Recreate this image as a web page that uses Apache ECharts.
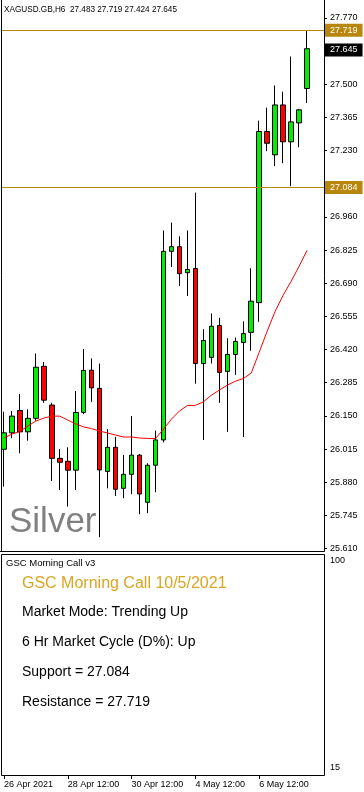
<!DOCTYPE html>
<html><head><meta charset="utf-8">
<script src="https://cdn.jsdelivr.net/npm/echarts@6/dist/echarts.min.js"></script>
<style>html,body{margin:0;padding:0;background:#fff}#c{width:364px;height:792px}</style>
</head><body><div id="c"></div>
<script>
// ---- data (H6 bars, XAGUSD) ----
const categories = [
  '26 Apr 12:00','26 Apr 18:00','27 Apr 00:00','27 Apr 06:00','27 Apr 12:00','27 Apr 18:00',
  '28 Apr 00:00','28 Apr 06:00','28 Apr 12:00','28 Apr 18:00','29 Apr 00:00','29 Apr 06:00',
  '29 Apr 12:00','29 Apr 18:00','30 Apr 00:00','30 Apr 06:00','30 Apr 12:00','30 Apr 18:00',
  '3 May 00:00','3 May 06:00','3 May 12:00','3 May 18:00','4 May 00:00','4 May 06:00',
  '4 May 12:00','4 May 18:00','5 May 00:00','5 May 06:00','5 May 12:00','5 May 18:00',
  '6 May 00:00','6 May 06:00','6 May 12:00','6 May 18:00','7 May 00:00','7 May 06:00',
  '7 May 12:00','7 May 18:00','10 May 00:00','10 May 06:00','10 May 12:00'
];
const opens  = [26.014,26.081,26.172,26.085,26.140,26.352,26.194,25.977,25.965,25.929,26.164,26.336,26.262,25.924,26.022,25.855,25.912,25.990,25.798,25.949,26.052,26.820,26.839,26.733,26.750,26.363,26.388,26.518,26.331,26.400,26.449,26.490,26.611,27.308,27.213,27.416,27.266,27.343,27.483];
const highs  = [26.167,26.170,26.239,26.177,26.404,26.369,26.203,26.015,26.022,26.251,26.422,26.384,26.363,26.096,26.065,25.991,26.149,25.995,25.957,26.090,26.905,26.937,26.881,26.905,27.059,26.503,26.567,26.549,26.466,26.469,26.535,26.751,27.352,27.405,27.495,27.470,27.613,27.400,27.719];
const lows   = [25.862,26.059,25.998,26.049,26.130,26.203,25.885,25.848,25.781,25.848,26.157,26.207,25.656,25.855,25.824,25.815,25.831,25.750,25.754,25.839,26.042,26.756,26.679,26.638,26.281,26.052,26.363,26.203,26.085,26.317,26.064,26.415,26.533,27.228,27.167,27.179,27.085,27.244,27.424];
const closes = [26.081,26.149,26.085,26.140,26.348,26.214,25.977,25.961,25.929,26.164,26.335,26.264,25.930,26.022,25.851,25.912,25.990,25.832,25.949,26.052,26.820,26.839,26.729,26.746,26.363,26.457,26.515,26.327,26.400,26.453,26.485,26.617,27.308,27.260,27.416,27.266,27.347,27.396,27.645];
const maValues = [26.060,26.076,26.086,26.109,26.129,26.141,26.149,26.149,26.133,26.117,26.105,26.098,26.088,26.080,26.072,26.064,26.064,26.060,26.058,26.058,26.096,26.137,26.170,26.192,26.193,26.207,26.234,26.255,26.275,26.291,26.302,26.324,26.409,26.495,26.576,26.641,26.698,26.759,26.824];

const priceMin = 25.610, priceMax = 27.770, priceStep = 0.135;
const indMin = 15, indMax = 100;
const xTickIndex = [0, 8, 16, 24, 32];
const xTickText  = ['26 Apr 2021', '28 Apr 12:00', '30 Apr 12:00', '4 May 12:00', '6 May 12:00'];
const resistance = 27.719, support = 27.084, lastPrice = 27.645;
const headerText = 'XAGUSD.GB,H6  27.483 27.719 27.424 27.645';
const watermark = 'Silver';
const panelTitle = 'GSC Morning Call v3';
const infoTitle = 'GSC Morning Call 10/5/2021';
const infoLines = ['Market Mode: Trending Up', '6 Hr Market Cycle (D%): Up', 'Support = 27.084', 'Resistance = 27.719'];

// ---- chart ----
const FONT = 'Liberation Sans, Arial, sans-serif';
const GOLD = '#B8860B';
const ohlc = opens.map((o, i) => [o, closes[i], lows[i], highs[i]]);
const flagged = [resistance, support, lastPrice];

const chart = echarts.init(document.getElementById('c'), null, {renderer: 'canvas'});

function markLbl(val, bg) {
  return {
    show: true, position: 'end', distance: -2,
    formatter: val.toFixed(3),
    color: '#fff', backgroundColor: bg, padding: [2, 5, 2, 5],
    fontSize: 9, fontFamily: FONT
  };
}

chart.setOption({
  animation: false,
  backgroundColor: '#fff',
  grid: [
    {left: -1, width: 328, top: 18, height: 530.5, containLabel: false},
    {left: -1, width: 328, top: 561, height: 207, containLabel: false}
  ],
  xAxis: [
    {gridIndex: 0, type: 'category', data: categories, boundaryGap: true, show: false},
    {gridIndex: 1, type: 'category', data: categories, boundaryGap: true, position: 'bottom', offset: 7,
     axisLine: {show: false},
     axisTick: {show: true, alignWithLabel: true, length: 4, interval: i => xTickIndex.includes(i), lineStyle: {color: '#000'}},
     axisLabel: {show: true, interval: i => xTickIndex.includes(i), formatter: (v, i) => xTickText[xTickIndex.indexOf(i)] || '',
       align: 'left', margin: 5, fontSize: 9, fontFamily: FONT, color: '#000'},
     splitLine: {show: false}}
  ],
  yAxis: [
    {gridIndex: 0, type: 'value', position: 'right', offset: -3, min: priceMin, max: priceMax, interval: priceStep,
     axisLine: {show: false},
     axisTick: {show: true, length: 3, lineStyle: {color: '#000'}},
     axisLabel: {show: true, margin: 6, fontSize: 9, fontFamily: FONT, color: '#000',
       formatter: v => flagged.some(f => Math.abs(f - v) < 0.02) ? '' : v.toFixed(3)},
     splitLine: {show: false}},
    {gridIndex: 1, type: 'value', position: 'right', offset: -3, min: indMin, max: indMax, interval: indMax - indMin,
     axisLine: {show: false}, axisTick: {show: false},
     axisLabel: {show: true, margin: 6, fontSize: 9, fontFamily: FONT, color: '#000'},
     splitLine: {show: false}}
  ],
  series: [
    {type: 'candlestick', xAxisIndex: 0, yAxisIndex: 0, data: ohlc, barWidth: 5, clip: false,
     itemStyle: {color: '#00ee00', color0: '#ff0000', borderColor: '#000', borderColor0: '#000', borderWidth: 1},
     markLine: {symbol: 'none', silent: true, animation: false,
       data: [
         {yAxis: resistance, lineStyle: {color: GOLD, width: 1, type: 'solid'}, label: markLbl(resistance, GOLD)},
         {yAxis: support, lineStyle: {color: GOLD, width: 1, type: 'solid'}, label: markLbl(support, GOLD)},
         {yAxis: lastPrice, lineStyle: {color: 'rgba(0,0,0,0)', width: 1, type: 'solid'}, label: markLbl(lastPrice, '#000')}
       ]}},
    {type: 'line', xAxisIndex: 0, yAxisIndex: 0, data: maValues, showSymbol: false, symbol: 'none',
     lineStyle: {color: '#ff0000', width: 1}, z: 3},
    {type: 'line', xAxisIndex: 1, yAxisIndex: 1, data: [], showSymbol: false}
  ],
  graphic: [
    {type: 'rect', shape: {x: 0, y: 0, width: 1, height: 552}, style: {fill: '#fff'}, z: 50},
    {type: 'line', shape: {x1: 1.5, y1: 0, x2: 1.5, y2: 551.5}, style: {stroke: '#000', lineWidth: 1}, z: 51},
    {type: 'line', shape: {x1: 324.5, y1: 0, x2: 324.5, y2: 551.5}, style: {stroke: '#000', lineWidth: 1}, z: 51},
    {type: 'line', shape: {x1: 0, y1: 551.5, x2: 324.5, y2: 551.5}, style: {stroke: '#000', lineWidth: 1}, z: 51},
    {type: 'line', shape: {x1: 1.5, y1: 554.5, x2: 324.5, y2: 554.5}, style: {stroke: '#000', lineWidth: 1}, z: 51},
    {type: 'line', shape: {x1: 1.5, y1: 554.5, x2: 1.5, y2: 775.5}, style: {stroke: '#000', lineWidth: 1}, z: 51},
    {type: 'line', shape: {x1: 324.5, y1: 554.5, x2: 324.5, y2: 775.5}, style: {stroke: '#000', lineWidth: 1}, z: 51},
    {type: 'line', shape: {x1: 1.5, y1: 775.5, x2: 324.5, y2: 775.5}, style: {stroke: '#000', lineWidth: 1}, z: 51},
    {type: 'text', x: 4, y: 10, style: {text: headerText, fill: '#000', font: '8.2px ' + FONT, textVerticalAlign: 'middle'}, z: 52},
    {type: 'text', x: 9, y: 522, style: {text: watermark, fill: '#808080', font: '35px ' + FONT, textVerticalAlign: 'middle'}, z: 1},
    {type: 'text', x: 6, y: 563, style: {text: panelTitle, fill: '#000', font: '9.5px ' + FONT, textVerticalAlign: 'middle'}, z: 52},
    {type: 'text', x: 22, y: 583.5, style: {text: infoTitle, fill: '#DAA520', font: '16px ' + FONT, textVerticalAlign: 'middle'}, z: 52},
    {type: 'text', x: 22, y: 612.5, style: {text: infoLines[0], fill: '#000', font: '14px ' + FONT, textVerticalAlign: 'middle'}, z: 52},
    {type: 'text', x: 22, y: 642.5, style: {text: infoLines[1], fill: '#000', font: '14px ' + FONT, textVerticalAlign: 'middle'}, z: 52},
    {type: 'text', x: 22, y: 672.5, style: {text: infoLines[2], fill: '#000', font: '14px ' + FONT, textVerticalAlign: 'middle'}, z: 52},
    {type: 'text', x: 22, y: 702.5, style: {text: infoLines[3], fill: '#000', font: '14px ' + FONT, textVerticalAlign: 'middle'}, z: 52}
  ]
});
</script>
</body></html>
